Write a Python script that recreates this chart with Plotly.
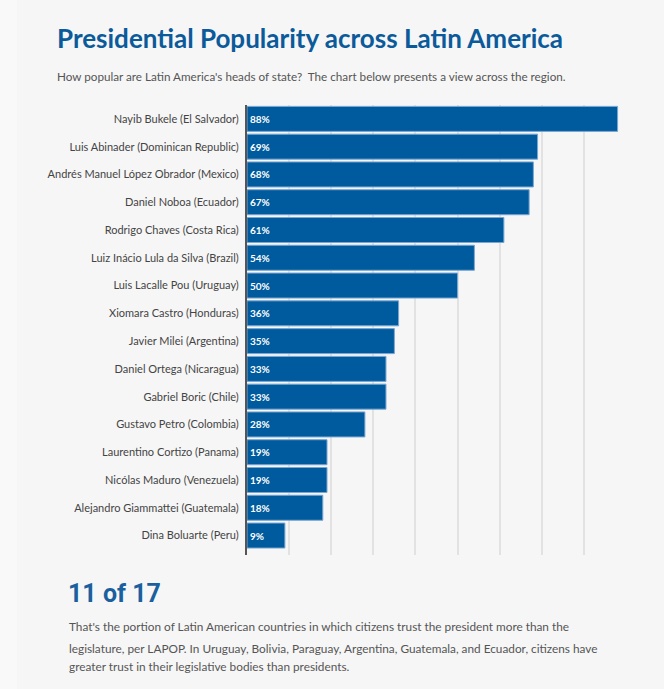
import plotly.graph_objects as go

# Presidential approval, top to bottom as shown
leaders = [
    "Nayib Bukele (El Salvador)",
    "Luis Abinader (Dominican Republic)",
    "Andrés Manuel López Obrador (Mexico)",
    "Daniel Noboa (Ecuador)",
    "Rodrigo Chaves (Costa Rica)",
    "Luiz Inácio Lula da Silva (Brazil)",
    "Luis Lacalle Pou (Uruguay)",
    "Xiomara Castro (Honduras)",
    "Javier Milei (Argentina)",
    "Daniel Ortega (Nicaragua)",
    "Gabriel Boric (Chile)",
    "Gustavo Petro (Colombia)",
    "Laurentino Cortizo (Panama)",
    "Nicólas Maduro (Venezuela)",
    "Alejandro Giammattei (Guatemala)",
    "Dina Boluarte (Peru)",
]
approval = [88, 69, 68, 67, 61, 54, 50, 36, 35, 33, 33, 28, 19, 19, 18, 9]

title = "Presidential Popularity across Latin America"
subtitle = "How popular are Latin America's heads of state?  The chart below presents a view across the region."
big_stat = "11 of 17"
note_lines = [
    "That's the portion of Latin American countries in which citizens trust the president more than the",
    "legislature, per LAPOP. In Uruguay, Bolivia, Paraguay, Argentina, Guatemala, and Ecuador, citizens have",
    "greater trust in their legislative bodies than presidents.",
]

FONT = "Lato, Open Sans, sans-serif"
BLUE = "#005b9e"
BG = "#f6f6f6"

fig = go.Figure()
fig.add_trace(go.Bar(
    x=approval,
    y=leaders,
    orientation="h",
    width=0.9,
    marker=dict(color=BLUE, line=dict(color="#7aa6d2", width=1)),
    text=[f"{v}%" for v in approval],
    textposition="inside",
    insidetextanchor="start",
    textfont=dict(family=FONT, size=10, color="white", weight="bold"),
    hoverinfo="x+y",
))

fig.update_layout(
    width=664, height=689,
    paper_bgcolor=BG, plot_bgcolor=BG,
    margin=dict(l=247, r=38, t=105, b=134),
    showlegend=False,
    bargap=0.1,
    xaxis=dict(range=[0, 90], dtick=10, showgrid=True, gridcolor="#e2e2e2", gridwidth=1.5,
               showticklabels=False, zeroline=False, fixedrange=True),
    yaxis=dict(autorange=False, range=[15.7, -0.5], type="category",
               showline=True, linecolor="#555", linewidth=2,
               ticks="", ticklabelstandoff=4,
               tickfont=dict(family=FONT, size=11, color="#444")),
)

# lighter strip down the left edge
fig.add_shape(type="rect", xref="paper", yref="paper",
              x0=-247 / 379, x1=(17 - 247) / 379, y0=-134 / 450, y1=1 + 105 / 450,
              fillcolor="#f9f9f9", line_width=0, layer="below")

ann = [
    dict(text=f"<b>{title}</b>", x=55, y=38, size=26, color="#0b5a9a"),
    dict(text=subtitle, x=55, y=76, size=11.7, color="#555"),
    dict(text=f"<b>{big_stat}</b>", x=66, y=593, size=25, color="#1a5f9e",
         family="Roboto, sans-serif"),
]
for i, line in enumerate(note_lines):
    ann.append(dict(text=line, x=67, y=[626, 648, 666][i], size=11.8, color="#555"))

for a in ann:
    fig.add_annotation(
        text=a["text"], xref="paper", yref="paper",
        x=(a["x"] - 247) / (664 - 247 - 38),
        y=1 - (a["y"] - 105) / (689 - 105 - 134),
        xanchor="left", yanchor="middle", showarrow=False,
        font=dict(family=a.get("family", FONT), size=a["size"], color=a["color"]),
    )

fig.write_html("out.html", config={"displayModeBar": False},
               post_script="document.body.style.margin='0';")
